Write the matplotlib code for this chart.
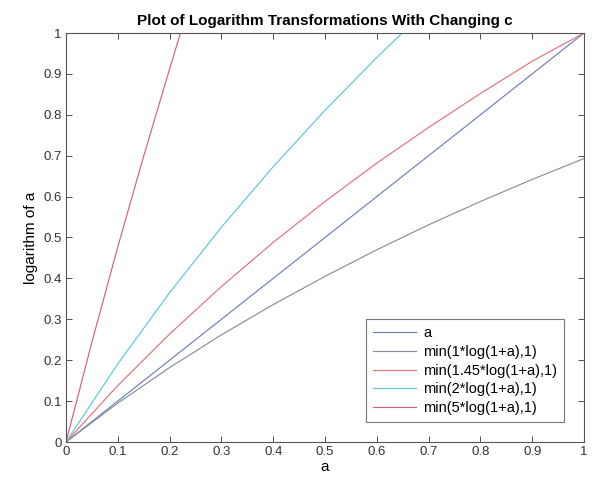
import matplotlib
matplotlib.use("Agg")
import matplotlib.pyplot as plt

plt.rcParams['font.family'] = ['Liberation Sans', 'DejaVu Sans']

# values
x_a = [0, 1]
y_a = [0, 1]
x_c1 = [0, 0.1, 0.2, 0.3, 0.4, 0.5, 0.6, 0.7, 0.8, 0.9, 1.0]
y_c1 = [0, 0.095, 0.182, 0.262, 0.336, 0.405, 0.470, 0.531, 0.588, 0.642, 0.693]
x_c145 = [0, 0.1, 0.2, 0.3, 0.4, 0.5, 0.6, 0.7, 0.8, 0.9, 1.0]
y_c145 = [0, 0.138, 0.264, 0.380, 0.488, 0.588, 0.682, 0.769, 0.852, 0.931, 1.0]
x_c2 = [0, 0.1, 0.2, 0.3, 0.4, 0.5, 0.6, 0.649, 1.0]
y_c2 = [0, 0.191, 0.365, 0.525, 0.673, 0.811, 0.940, 1.0, 1.0]
x_c5 = [0, 0.05, 0.1, 0.15, 0.2, 0.221, 1.0]
y_c5 = [0, 0.244, 0.477, 0.699, 0.912, 1.0, 1.0]

labels = ['a', 'min(1*log(1+a),1)', 'min(1.45*log(1+a),1)',
          'min(2*log(1+a),1)', 'min(5*log(1+a),1)']
colors = ['#6f7fb8', '#8a8f9a', '#e8707c', '#5cc8d4', '#d8607c']
ticks = [0, 0.1, 0.2, 0.3, 0.4, 0.5, 0.6, 0.7, 0.8, 0.9, 1]
tick_labels = ['0', '0.1', '0.2', '0.3', '0.4', '0.5', '0.6', '0.7', '0.8', '0.9', '1']

fig = plt.figure(figsize=(5.93, 4.86), dpi=100)
ax = fig.add_axes([66/593, 1 - 442/486, (584-66)/593, (442-33)/486])

series = [(x_a, y_a), (x_c1, y_c1), (x_c145, y_c145), (x_c2, y_c2), (x_c5, y_c5)]
for (xs, ys), lab, col in zip(series, labels, colors):
    ax.plot(xs, ys, color=col, lw=0.85, label=lab)

ax.set_xlim(0, 1)
ax.set_ylim(0, 1)
ax.set_xticks(ticks)
ax.set_xticklabels(tick_labels)
ax.set_yticks(ticks)
ax.set_yticklabels(tick_labels)
ax.tick_params(direction='in', length=4, width=0.6, labelsize=9.5, colors='#333333',
               top=True, right=True, pad=3)
for s in ax.spines.values():
    s.set_color('#555555')
    s.set_linewidth(0.8)

ax.set_title('Plot of Logarithm Transformations With Changing c', fontsize=11,
             fontweight='bold', pad=6)
ax.set_xlabel('a', fontsize=11, labelpad=1)
ax.set_ylabel('logarithm of a', fontsize=11, labelpad=4)

leg = ax.legend(loc='lower right', fontsize=10.5, frameon=True, fancybox=False,
                edgecolor='#555555', handlelength=2.9, handletextpad=0.5,
                borderaxespad=1.35, labelspacing=0.32, borderpad=0.5)
leg.get_frame().set_linewidth(0.8)

fig.savefig('out.png', dpi=100)
